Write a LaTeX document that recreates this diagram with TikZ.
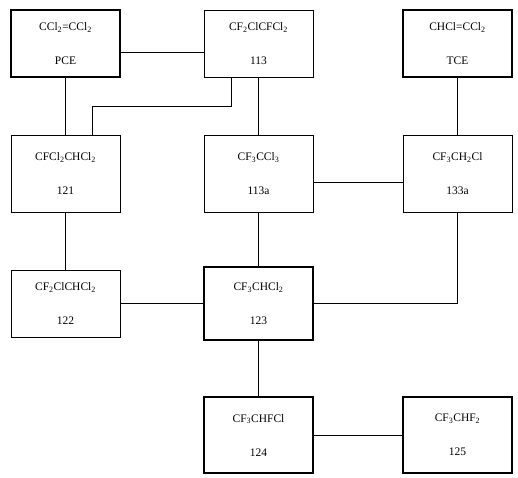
\documentclass[tikz,border=0pt]{standalone}
\usepackage{fontspec}
\setmainfont{Liberation Serif}
\usepackage{tikz}
\usetikzlibrary{positioning, calc}
\newcommand{\lo}[1]{\textsubscript{#1}}

\begin{document}
\begin{tikzpicture}[x=1pt, y=-1pt,
  chembox/.style={draw, line width=0.8pt, minimum width=109pt, minimum height=75pt, inner sep=0pt, align=center, font=\fontsize{11.5}{14}\selectfont},
  keybox/.style={chembox, line width=2pt},
  link/.style={line width=0.8pt}]
  \useasboundingbox (0,0) rectangle (518,477);

  % Row 1
  \node[keybox, minimum height=67pt] (pce) at (65.5, 43.5) {CCl\lo{2}=CCl\lo{2}\\[20pt]PCE};
  \node[chembox, minimum height=67pt] (r113) at (258.5, 43.5) {CF\lo{2}ClCFCl\lo{2}\\[20pt]113};
  \node[keybox, minimum height=67pt] (tce) at (457.5, 43.5) {CHCl=CCl\lo{2}\\[20pt]TCE};

  % Row 2
  \node[chembox, minimum height=77pt] (r121) at (65.5, 173.5) {CFCl\lo{2}CHCl\lo{2}\\[20pt]121};
  \node[chembox, minimum height=77pt] (r113a) at (258.5, 173.5) {CF\lo{3}CCl\lo{3}\\[20pt]113a};
  \node[chembox, minimum height=77pt] (r133a) at (457.5, 173.5) {CF\lo{3}CH\lo{2}Cl\\[20pt]133a};

  % Row 3
  \node[chembox, minimum height=67pt] (r122) at (65.5, 303.5) {CF\lo{2}ClCHCl\lo{2}\\[20pt]122};
  \node[keybox, minimum height=73pt] (r123) at (258.5, 303.5) {CF\lo{3}CHCl\lo{2}\\[20pt]123};

  % Row 4
  \node[keybox, minimum height=76pt] (r124) at (258.5, 435) {CF\lo{3}CHFCl\\[20pt]124};
  \node[keybox, minimum height=76pt] (r125) at (457.5, 435) {CF\lo{3}CHF\lo{2}\\[20pt]125};

  % Links
  \draw[link] ([yshift=-8.5pt]pce.east) -- ([yshift=-8.5pt]pce.east -| r113.west);
  \draw[link] (pce) -- (r121);
  \draw[link] ([xshift=-27.5pt]r113.south) -- ++(0, 29) -| ([xshift=26.5pt]r121.north);
  \draw[link] (r113) -- (r113a);
  \draw[link] (tce) -- (r133a);
  \draw[link] ([yshift=-8.5pt]r113a.east) -- ([yshift=-8.5pt]r113a.east -| r133a.west);
  \draw[link] (r121) -- (r122);
  \draw[link] (r113a) -- (r123);
  \draw[link] (r122) -- (r123);
  \draw[link] (r123.east) -| (r133a.south);
  \draw[link] (r123) -- (r124);
  \draw[link] (r124) -- (r125);
\end{tikzpicture}
\end{document}
